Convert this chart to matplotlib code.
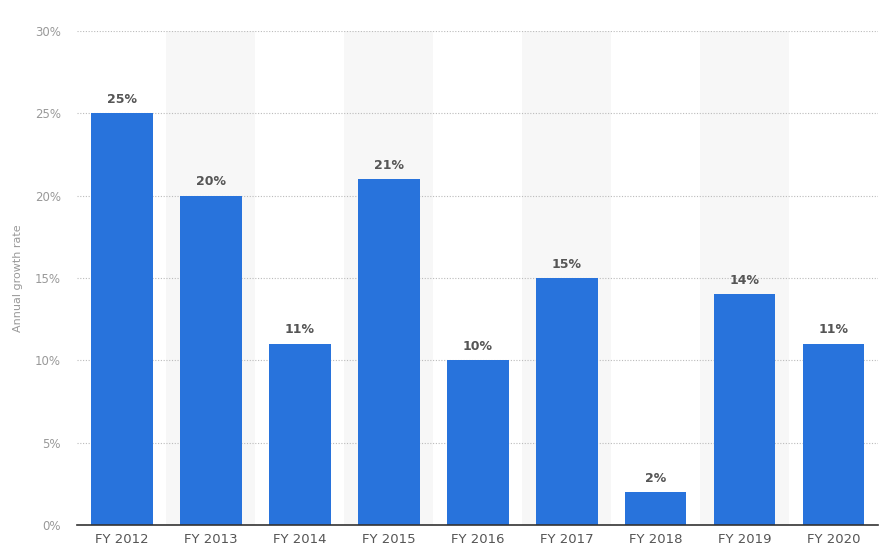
import matplotlib
matplotlib.use("Agg")
import matplotlib.pyplot as plt

categories = ["FY 2012", "FY 2013", "FY 2014", "FY 2015", "FY 2016", "FY 2017", "FY 2018", "FY 2019", "FY 2020"]
values = [25, 20, 11, 21, 10, 15, 2, 14, 11]
yticks = [0, 5, 10, 15, 20, 25, 30]

plt.rcParams['font.family'] = ['DejaVu Sans']
fig = plt.figure(figsize=(8.8, 5.53), dpi=100)
ax = fig.add_axes([0.088, 0.0506, 0.910, 0.8934])

x = list(range(len(categories)))
for i in x:
    if i % 2 == 1:
        ax.axvspan(i - 0.5, i + 0.5, color="#f7f7f7", zorder=0, lw=0)

ax.bar(x, values, width=0.69, color="#2873dc", zorder=3)
for xi, v in zip(x, values):
    ax.text(xi, v + 0.45, f"{v}%", ha="center", va="bottom", fontsize=9,
            fontweight="bold", color="#555555", zorder=4)

ax.set_xlim(-0.5, len(categories) - 0.5)
ax.set_ylim(0, 30)
ax.set_yticks(yticks)
ax.set_yticklabels([f"{t}%" for t in yticks])
ax.set_xticks(x)
ax.set_xticklabels(categories)
ax.tick_params(axis="y", length=0, colors="#999999", labelsize=8.5, pad=12)
ax.tick_params(axis="x", length=0, colors="#555555", labelsize=9.5, pad=6)
for lab in ax.get_yticklabels():
    lab.set_color("#999999")
for lab in ax.get_xticklabels():
    lab.set_color("#555555")

ax.yaxis.grid(True, linestyle=(0, (1, 1.5)), color="#bbbbbb", linewidth=0.8, zorder=1)
ax.set_axisbelow(True)
for s in ["top", "right", "left"]:
    ax.spines[s].set_visible(False)
ax.spines["bottom"].set_color("#333333")
ax.spines["bottom"].set_linewidth(1.2)
ax.spines["bottom"].set_zorder(5)

fig.text(0.021, (553 - 278) / 553, "Annual growth rate", rotation=90, ha="center", va="center",
         fontsize=8, color="#999999")

fig.savefig("out.png", dpi=100)
